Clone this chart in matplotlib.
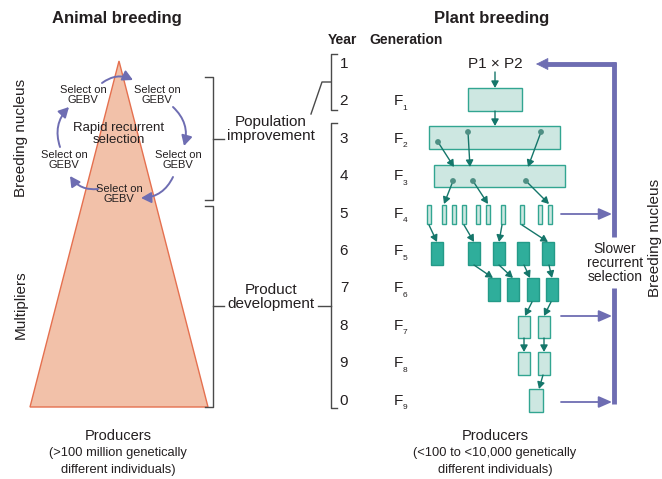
"""
Animal vs plant breeding schemes.
"""
import matplotlib
matplotlib.use('Agg')
import matplotlib.pyplot as plt
import matplotlib.patches as mpatches

plt.rcParams['font.family'] = ['Liberation Sans', 'DejaVu Sans']

# labels
years = ['1', '2', '3', '4', '5', '6', '7', '8', '9', '0']
generations = ['', '1', '2', '3', '4', '5', '6', '7', '8', '9']
select_label = 'Select on\nGEBV'
animal_sides = ['Breeding nucleus', 'Multipliers']
animal_footer = ['Producers', '(>100 million genetically', 'different individuals)']
plant_footer = ['Producers', '(<100 to <10,000 genetically', 'different individuals)']

# plant scheme, x-extents of boxes per generation row
f1_boxes = [(468, 522)]
f2_boxes = [(429, 560)]
f3_boxes = [(434, 565)]
f4_bars = [427, 442, 452, 462, 476, 486, 501, 520, 538, 548]
f5_boxes = [431, 468, 493, 517, 542]
f6_boxes = [488, 507, 527, 546]
f7_boxes = [518, 538]
f8_boxes = [518, 538]
f9_boxes = [529]

# selection arrows (start, end)
sel_arrows = [
    ((495, 72), (495, 88)), ((495, 111), (495, 126)),
    ((438, 142), (454, 167)), ((468, 132), (470, 167)), ((541, 132), (528, 167)),
    ((453, 181), (444, 204)), ((473, 181), (488, 204)), ((526, 181), (549, 204)),
    ((429, 225), (437, 242)), ((464, 225), (474, 242)), ((502, 225), (499, 242)),
    ((522, 225), (548, 242)),
    ((474, 265), (493, 278)), ((499, 265), (513, 278)), ((524, 265), (530, 278)),
    ((549, 265), (552, 278)),
    ((532, 302), (525, 316)), ((551, 302), (544, 316)),
    ((524, 338), (524, 352)), ((544, 338), (544, 352)),
    ((543, 375), (539, 389)),
]
dots = [(438, 142), (468, 132), (541, 132), (453, 181), (473, 181), (526, 181)]

TRI_FILL = '#f2c1a9'
TRI_EDGE = '#e5704f'
PURPLE = '#6e6db2'
TEAL_LIGHT = '#cde7e1'
TEAL_EDGE = '#32a591'
TEAL_DARK = '#2fae9b'
ARROW = '#15766a'
GREY = '#4a4a4a'
TXT = '#231f20'

fig = plt.figure(figsize=(6.62, 4.79), dpi=100)
ax = fig.add_axes([0, 0, 1, 1])
ax.set_xlim(0, 662)
ax.set_ylim(479, 0)
ax.set_axis_off()

# titles
ax.text(117, 18, 'Animal breeding', ha='center', va='center', fontsize=12, weight='bold', color=TXT)
ax.text(492, 18, 'Plant breeding', ha='center', va='center', fontsize=12, weight='bold', color=TXT)
ax.text(342, 40, 'Year', ha='center', va='center', fontsize=10, weight='bold', color=TXT)
ax.text(406, 40, 'Generation', ha='center', va='center', fontsize=10, weight='bold', color=TXT)

# animal triangle
ax.add_patch(mpatches.Polygon([(119, 61), (30, 407), (208, 407)], closed=True,
                              facecolor=TRI_FILL, edgecolor=TRI_EDGE, lw=1.0))
ax.text(21, 138, animal_sides[0], rotation=90, ha='center', va='center', fontsize=11, color=TXT)
ax.text(21, 305, animal_sides[1], rotation=90, ha='center', va='center', fontsize=11, color=TXT)

sel_pos = [(83, 95), (157, 95), (64, 160), (178, 160), (119, 194)]
for px, py in sel_pos:
    ax.text(px, py, select_label, ha='center', va='center', fontsize=8, color=TXT, linespacing=1.0)
ax.text(119, 134, 'Rapid recurrent\nselection', ha='center', va='center', fontsize=9.5,
        color=TXT, linespacing=1.0)

cycle = [((102, 83), (133, 80), -0.3), ((173, 107), (184, 146), -0.3),
         ((173, 177), (141, 198), -0.3), ((98, 189), (70, 176), -0.3),
         ((60, 147), (69, 107), -0.3)]
for a, b, rad in cycle:
    ax.add_patch(mpatches.FancyArrowPatch(a, b, connectionstyle=f'arc3,rad={rad}',
                                          arrowstyle='-|>,head_length=6,head_width=3.2',
                                          color=PURPLE, lw=1.4, shrinkA=0, shrinkB=0))

# brackets
def bracket(x, y0, y1, tick, side=-1):
    ax.plot([x + side * tick, x, x, x + side * tick], [y0, y0, y1, y1], color=GREY, lw=1.0)

bracket(213, 77, 200, 8)
bracket(213, 206, 407, 8)
ax.plot([213, 224], [139, 139], color=GREY, lw=1.0)
ax.plot([213, 224], [306, 306], color=GREY, lw=1.0)
ax.text(271, 129, 'Population\nimprovement', ha='center', va='center', fontsize=11, color=TXT, linespacing=1.0)
ax.text(271, 297, 'Product\ndevelopment', ha='center', va='center', fontsize=11, color=TXT, linespacing=1.0)
ax.plot([318, 331], [306, 306], color=GREY, lw=1.0)

bracket(331, 54, 110, 6, side=1)
bracket(331, 123, 408, 6, side=1)
ax.plot([331, 322, 311], [82, 82, 114], color=GREY, lw=1.0)

# year / generation columns
row_y = [64 + 37.4 * i for i in range(len(years))]
for yl, gl, ry in zip(years, generations, row_y):
    ax.text(344, ry, yl, ha='center', va='center', fontsize=11, color=TXT)
    if gl:
        ax.text(398, ry, 'F', ha='center', va='center', fontsize=11, color=TXT)
        ax.text(405, ry + 7, gl, ha='center', va='center', fontsize=6, color=TXT)

ax.text(495, 64, 'P1 × P2', ha='center', va='center', fontsize=11, color=TXT)

def boxes(spans, y0, y1, fc, ec):
    for x0, x1 in spans:
        ax.add_patch(mpatches.Rectangle((x0, y0), x1 - x0, y1 - y0, facecolor=fc,
                                        edgecolor=ec, lw=1.0))

boxes(f1_boxes, 88, 111, TEAL_LIGHT, TEAL_EDGE)
boxes(f2_boxes, 126, 149, TEAL_LIGHT, TEAL_EDGE)
boxes(f3_boxes, 165, 187, TEAL_LIGHT, TEAL_EDGE)
boxes([(x, x + 4) for x in f4_bars], 205, 224, TEAL_LIGHT, TEAL_EDGE)
boxes([(x, x + 12) for x in f5_boxes], 242, 265, TEAL_DARK, '#249a88')
boxes([(x, x + 12) for x in f6_boxes], 278, 301, TEAL_DARK, '#249a88')
boxes([(x, x + 12) for x in f7_boxes], 316, 338, TEAL_LIGHT, TEAL_EDGE)
boxes([(x, x + 12) for x in f8_boxes], 352, 375, TEAL_LIGHT, TEAL_EDGE)
boxes([(x, x + 14) for x in f9_boxes], 389, 412, TEAL_LIGHT, TEAL_EDGE)

for a, b in sel_arrows:
    ax.add_patch(mpatches.FancyArrowPatch(a, b, arrowstyle='-|>,head_length=4,head_width=2.2',
                                          color=ARROW, lw=1.0, shrinkA=0, shrinkB=0))
for dx, dy in dots:
    ax.add_patch(mpatches.Circle((dx, dy), 2.2, color='#4f8f84', zorder=3))

# slower recurrent selection loop
ax.plot([614, 614], [62, 237], color=PURPLE, lw=3.5, solid_capstyle='butt')
ax.plot([614, 614], [288, 404], color=PURPLE, lw=3.5, solid_capstyle='butt')
ax.plot([546, 616], [64, 64], color=PURPLE, lw=3.5, solid_capstyle='butt')
ax.add_patch(mpatches.FancyArrowPatch((548, 64), (536, 64), arrowstyle='-|>,head_length=8,head_width=4',
                                      color=PURPLE, lw=0.5, shrinkA=0, shrinkB=0))
for ry in [214, 316, 402]:
    ax.add_patch(mpatches.FancyArrowPatch((561, ry), (612, ry), arrowstyle='-|>,head_length=8,head_width=3.5',
                                          color=PURPLE, lw=1.3, shrinkA=0, shrinkB=0))
ax.text(615, 263, 'Slower\nrecurrent\nselection', ha='center', va='center', fontsize=10,
        color=TXT, linespacing=1.0)
ax.text(655, 238, 'Breeding nucleus', rotation=90, ha='center', va='center', fontsize=11, color=TXT)

# footers
for footer, cx in [(animal_footer, 118), (plant_footer, 495)]:
    ax.text(cx, 436, footer[0], ha='center', va='center', fontsize=10.5, color=TXT)
    ax.text(cx, 453, footer[1], ha='center', va='center', fontsize=9.3, color=TXT)
    ax.text(cx, 470, footer[2], ha='center', va='center', fontsize=9.3, color=TXT)

fig.savefig('out.png', dpi=100)
